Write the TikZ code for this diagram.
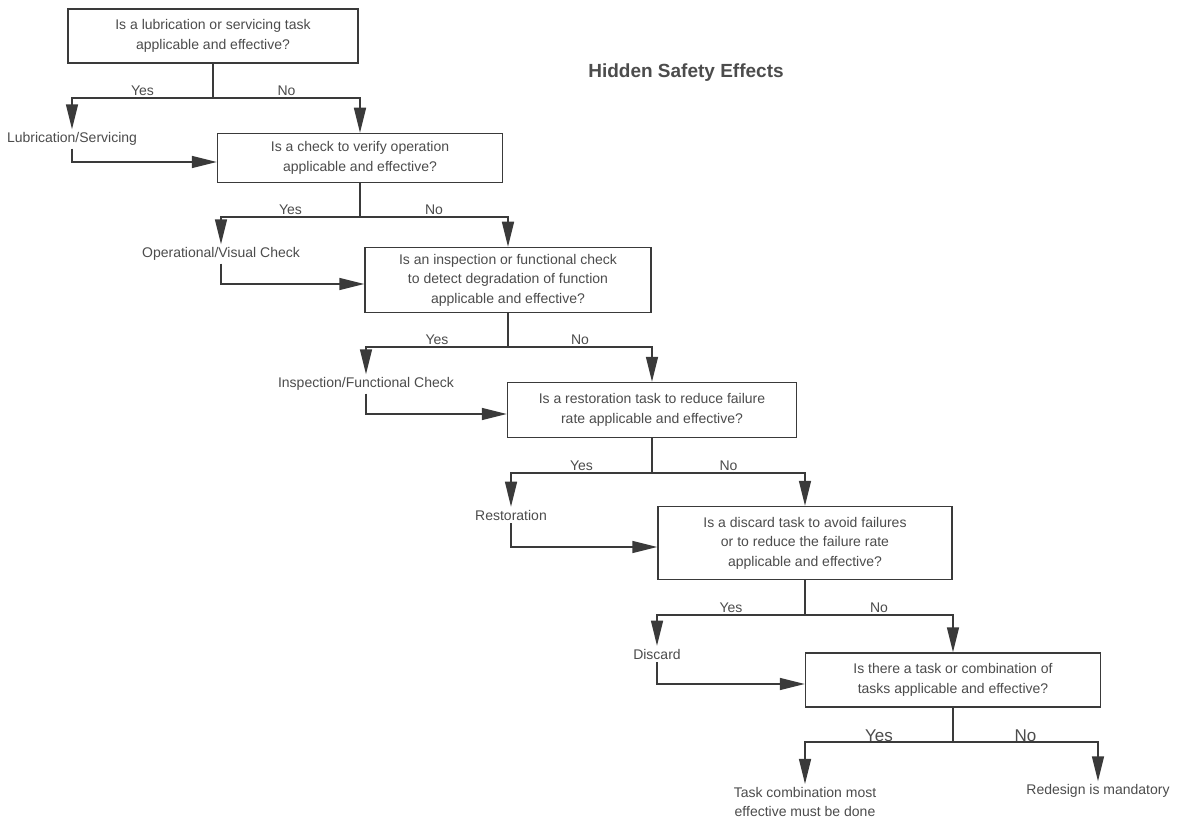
\documentclass[tikz,border=0pt]{standalone}
\usepackage{fontspec}
\setmainfont{Liberation Sans}
\usetikzlibrary{arrows.meta}
\definecolor{ink}{RGB}{58,58,58}
\definecolor{inktext}{RGB}{76,76,76}
\tikzset{
  qbox/.style={draw=ink,line width=1.5pt,align=center,text=inktext,
    font=\fontsize{14}{19.5}\selectfont,inner sep=3pt},
  link/.style={ink,line width=1.5pt},
  flow/.style={link,-{Triangle[length=25pt,width=12pt]}},
  answer/.style={font=\fontsize{14}{16}\selectfont,text=inktext,above,inner sep=2pt},
  bigans/.style={answer,font=\fontsize{17}{19}\selectfont,inner sep=0pt},
  task/.style={font=\fontsize{14}{19.5}\selectfont,text=inktext,align=center,inner sep=3pt}
}

\begin{document}
\begin{tikzpicture}[x=1pt,y=-1pt]
  \useasboundingbox[fill=white] (0,0) rectangle (1183,818);
  % questions
  \node[qbox,minimum width=290pt,minimum height=54pt] (q1) at (213,36)
    {Is a lubrication or servicing task\\applicable and effective?};
  \node[qbox,minimum width=285pt,minimum height=49pt] (q2) at (360,158)
    {Is a check to verify operation\\applicable and effective?};
  \node[qbox,minimum width=286pt,minimum height=65pt] (q3) at (508,280)
    {Is an inspection or functional check\\to detect degradation of function\\applicable and effective?};
  \node[qbox,minimum width=289pt,minimum height=55pt] (q4) at (652,410)
    {Is a restoration task to reduce failure\\rate applicable and effective?};
  \node[qbox,minimum width=294pt,minimum height=73pt] (q5) at (805,543)
    {Is a discard task to avoid failures\\or to reduce the failure rate\\applicable and effective?};
  \node[qbox,minimum width=295pt,minimum height=54pt] (q6) at (953,680)
    {Is there a task or combination of\\tasks applicable and effective?};
  % tasks
  \node[task] (lube) at (72,139) {Lubrication/Servicing};
  \node[task] (opcheck) at (221,254) {Operational/Visual Check};
  \node[task] (inspect) at (366,384) {Inspection/Functional Check};
  \node[task] (restore) at (511,515) {Restoration};
  \node[task] (discard) at (657,654) {Discard};
  \node[task] (combo) at (805,802) {Task combination most\\effective must be done};
  \node[task] (redesign) at (1098,791) {Redesign is mandatory};
  \node[font=\bfseries\fontsize{19}{22}\selectfont,text=inktext] (title) at (686,73)
    {Hidden Safety Effects};
  % yes / no branches
  \foreach \a/\b/\t/\y in {q1/q2/lube/98,q2/q3/opcheck/217,q3/q4/inspect/347,
                           q4/q5/restore/473,q5/q6/discard/615} {
    \draw[link] (\a.south) -- (\a.south |- 0,\y) coordinate (split);
    \draw[flow] (split) -| node[answer,pos=0.25] {Yes} (\t.north);
    \draw[flow] (split) -| node[answer,pos=0.25] {No} (\b.north);
    \draw[flow] (\t.south) |- ([yshift=-4pt]\b.west);
  }
  \draw[link] (q6.south) -- (q6.south |- 0,742) coordinate (last);
  \draw[flow] (last) -| node[bigans,pos=0.25] {Yes} (combo.north);
  \draw[flow] (last) -| node[bigans,pos=0.25] {No} (redesign.north);
\end{tikzpicture}
\end{document}
